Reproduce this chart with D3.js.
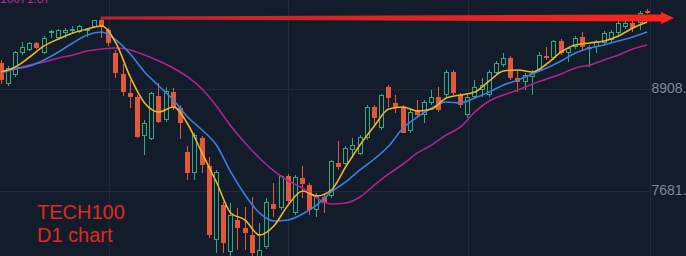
<!DOCTYPE html>
<html lang="en">
<head>
<meta charset="UTF-8">
<title>TECH100 D1 chart</title>
<script src="https://cdnjs.cloudflare.com/ajax/libs/d3/7.9.0/d3.min.js"></script>
<style>
    html, body {
        margin: 0;
        padding: 0;
        background-color: #121c2b;
        overflow: hidden;
    }
    svg {
        display: block;
    }
    .price-label {
        font-family: "Liberation Sans", Arial, sans-serif;
        font-size: 14px;
        fill: #7f8a9b;
    }
    .title {
        font-family: "Liberation Sans", Arial, sans-serif;
        font-size: 20px;
        fill: #e2281f;
    }
</style>
</head>
<body>
<svg id="chart" width="686" height="256"></svg>
<script>
    // daily OHLC, oldest first
    const open = [9221, 8968, 9077, 9341, 9378, 9462, 9341, 9582, 9522, 9582,
        9618, 9594, 9606, 9654, 9738, 9618, 9341, 9089, 8860, 8812,
        8343, 8307, 8824, 8535, 8872, 8680, 8151, 7898, 8319, 7982,
        7092, 7513, 6947, 7332, 7236, 7152, 6851, 7008, 7525, 7477,
        7862, 7417, 7838, 7753, 7453, 7609, 7621, 8018, 8006, 8175,
        8126, 8319, 8692, 8439, 8932, 8740, 8692, 8403, 8656, 8596,
        8740, 8812, 8836, 9113, 8836, 8596, 8812, 8896, 8836, 9101,
        9197, 9281, 9041, 8993, 9053, 9137, 9305, 9281, 9486, 9341,
        9414, 9534, 9402, 9414, 9462, 9498, 9582, 9654, 9702, 9702,
        9847];
    const high = [9257, 9185, 9365, 9474, 9474, 9474, 9546, 9618, 9630, 9642,
        9666, 9678, 9642, 9738, 9762, 9642, 9378, 9209, 9017, 8836,
        8535, 8872, 8981, 8932, 8920, 8716, 8223, 8379, 8343, 8090,
        7934, 7549, 7537, 7477, 7489, 7609, 7296, 7597, 7778, 7874,
        7886, 7874, 7982, 7778, 7657, 7657, 8054, 8283, 8223, 8319,
        8355, 8716, 8716, 8848, 8956, 8836, 8716, 8656, 8776, 8776,
        8896, 8932, 9137, 9137, 8860, 8836, 9017, 9041, 9137, 9245,
        9341, 9305, 9137, 9101, 9137, 9353, 9414, 9498, 9510, 9414,
        9546, 9594, 9438, 9498, 9606, 9618, 9726, 9726, 9726, 9847,
        9871];
    const low = [8968, 8944, 9053, 9317, 9365, 9390, 9329, 9522, 9498, 9522,
        9582, 9582, 9534, 9642, 9522, 9426, 9041, 8824, 8680, 8319,
        8114, 8295, 8499, 8511, 8656, 8307, 7814, 7814, 7898, 7116,
        6935, 6935, 6899, 6972, 6972, 6899, 6827, 6984, 7369, 7453,
        7537, 7393, 7597, 7393, 7369, 7417, 7597, 7934, 7994, 8078,
        8114, 8295, 8475, 8415, 8692, 8620, 8379, 8379, 8571, 8499,
        8716, 8632, 8812, 8836, 8680, 8559, 8788, 8812, 8812, 9077,
        9173, 9017, 8872, 8896, 8836, 9113, 9257, 9257, 9317, 9233,
        9390, 9378, 9173, 9341, 9438, 9462, 9558, 9630, 9594, 9618,
        9811];
    const close = [9017, 9161, 9353, 9414, 9462, 9402, 9522, 9606, 9618, 9618,
        9630, 9666, 9630, 9738, 9654, 9462, 9101, 8872, 8812, 8331,
        8499, 8860, 8511, 8884, 8692, 8499, 7898, 8355, 7994, 7152,
        7910, 7056, 7393, 7236, 7176, 6935, 6972, 7549, 7465, 7862,
        7561, 7850, 7766, 7453, 7633, 7537, 8042, 7970, 8199, 8235,
        8331, 8692, 8559, 8836, 8800, 8692, 8379, 8632, 8596, 8752,
        8812, 8656, 9113, 8860, 8716, 8812, 8932, 8956, 9113, 9221,
        9281, 9041, 8993, 9077, 9101, 9317, 9281, 9486, 9341, 9402,
        9522, 9414, 9414, 9474, 9582, 9594, 9702, 9702, 9642, 9823,
        9823];

    // moving averages, read every second day
    const maDays = [0, 2, 4, 6, 8, 10, 12, 14, 16, 18, 20, 22, 24, 26, 28, 30,
        32, 34, 36, 38, 40, 42, 44, 46, 48, 50, 52, 54, 56, 58, 60, 62,
        64, 66, 68, 70, 72, 74, 76, 78, 80, 82, 84, 86, 88, 90];
    const maFast = [9113, 9173, 9293, 9426, 9510, 9582, 9630, 9666, 9462, 9053,
        8740, 8632, 8692, 8487, 8139, 7789, 7417, 7332, 7152, 7260,
        7513, 7681, 7621, 7693, 7970, 8235, 8463, 8668, 8692, 8644,
        8668, 8800, 8836, 8872, 9005, 9125, 9137, 9113, 9209, 9353,
        9438, 9462, 9486, 9546, 9642, 9714];
    const maMid = [9113, 9149, 9185, 9257, 9353, 9462, 9558, 9594, 9498, 9329,
        9113, 8944, 8776, 8571, 8415, 8235, 7910, 7633, 7417, 7320,
        7332, 7405, 7513, 7669, 7790, 7934, 8066, 8223, 8439, 8571,
        8680, 8752, 8740, 8800, 8872, 8956, 9017, 9089, 9161, 9245,
        9341, 9402, 9438, 9486, 9534, 9594];
    const maSlow = [9101, 9149, 9197, 9233, 9281, 9317, 9365, 9390, 9402, 9378,
        9317, 9245, 9161, 9053, 8908, 8704, 8463, 8259, 8078, 7922,
        7802, 7717, 7597, 7525, 7537, 7609, 7753, 7886, 8006, 8139,
        8235, 8355, 8451, 8632, 8764, 8836, 8896, 8968, 9029, 9089,
        9161, 9197, 9257, 9317, 9390, 9438];

    const priceTicks = [7681.4, 8908.2];
    const gridDays = [15, 40, 65];
    const legendText = '10071.87';

    const colors = {
        up: '#36a87b',
        down: '#e2583b',
        bg: '#121c2b',
        grid: '#1f2a3a',
        fast: '#f0b42c',
        mid: '#3c7fe0',
        slow: '#b0238f'
    };

    const svg = d3.select('#chart');
    const x = d3.scaleLinear().domain([0, 90]).range([1, 647.2]);
    const y = d3.scaleLinear().domain([7681, 8908]).range([191, 89]);
    const axisX = 650.5;

    svg.append('rect').attr('width', 686).attr('height', 256).attr('fill', colors.bg);

    // grid
    const grid = svg.append('g').attr('stroke', colors.grid).attr('stroke-width', 1);
    grid.selectAll('line.h').data(priceTicks).join('line')
        .attr('x1', 0).attr('x2', axisX)
        .attr('y1', d => Math.round(y(d)) + 0.5).attr('y2', d => Math.round(y(d)) + 0.5);
    grid.selectAll('line.v').data(gridDays).join('line')
        .attr('x1', d => Math.round(x(d)) + 0.5).attr('x2', d => Math.round(x(d)) + 0.5)
        .attr('y1', 0).attr('y2', 256);
    grid.append('line')
        .attr('x1', axisX).attr('x2', axisX).attr('y1', 0).attr('y2', 256);

    // right price labels (cut by the window edge, as on the original)
    svg.selectAll('text.price-label').data(priceTicks).join('text')
        .attr('class', 'price-label')
        .attr('x', axisX + 1)
        .attr('y', d => y(d))
        .attr('dominant-baseline', 'middle')
        .text(d => d3.format('.1f')(d));

    // candles
    const candles = open.map((o, i) => ({ i, o, h: high[i], l: low[i], c: close[i] }));
    const cg = svg.append('g');
    const px = d => Math.floor(x(d.i));

    cg.selectAll('line').data(candles).join('line')
        .attr('x1', d => px(d) + 0.5).attr('x2', d => px(d) + 0.5)
        .attr('y1', d => y(d.h)).attr('y2', d => y(d.l))
        .attr('stroke', d => d.c >= d.o ? colors.up : colors.down)
        .attr('stroke-width', 1);

    cg.selectAll('rect.down').data(candles.filter(d => d.c < d.o)).join('rect')
        .attr('class', 'down')
        .attr('x', d => px(d) - 2)
        .attr('width', 5)
        .attr('y', d => y(d.o))
        .attr('height', d => Math.max(1, y(d.c) - y(d.o)))
        .attr('fill', colors.down);

    cg.selectAll('rect.up').data(candles.filter(d => d.c >= d.o)).join('rect')
        .attr('class', 'up')
        .attr('x', d => px(d) - 1.5)
        .attr('width', 4)
        .attr('y', d => Math.round(y(d.c)) + 0.5)
        .attr('height', d => Math.max(1, Math.round(y(d.o) - y(d.c)) - 1))
        .attr('fill', colors.bg)
        .attr('stroke', colors.up)
        .attr('stroke-width', 1);

    // moving averages
    const line = d3.line()
        .x(d => x(d[0]))
        .y(d => y(d[1]))
        .curve(d3.curveMonotoneX);

    [[maSlow, colors.slow], [maMid, colors.mid], [maFast, colors.fast]].forEach(([vals, col]) => {
        svg.append('path')
            .attr('d', line(maDays.map((day, k) => [day, vals[k]])))
            .attr('fill', 'none')
            .attr('stroke', col)
            .attr('stroke-width', 1.6);
    });

    // red arrow from the old high
    const defs = svg.append('defs');
    const grad = defs.append('linearGradient').attr('id', 'arrowGrad')
        .attr('x1', '0%').attr('x2', '100%');
    grad.append('stop').attr('offset', '0%').attr('stop-color', '#b9252b');
    grad.append('stop').attr('offset', '100%').attr('stop-color', '#fb2419');

    const ax0 = x(14) - 1;
    const ay = y(high[14]);
    const ax1 = 661, tip = 674;
    svg.append('path')
        .attr('d', `M${ax0},${ay - 1.5} L${ax1},${ay - 3.5} L${ax1},${ay - 6} L${tip},${ay} ` +
            `L${ax1},${ay + 6} L${ax1},${ay + 3.5} L${ax0},${ay + 1.5} Z`)
        .attr('fill', 'url(#arrowGrad)');

    // texts
    svg.append('text')
        .attr('x', 0).attr('y', 3)
        .attr('fill', '#c42a98')
        .style('font-family', '"Liberation Sans", Arial, sans-serif')
        .style('font-size', '12px')
        .text(legendText);

    svg.append('text').attr('class', 'title').attr('x', 37).attr('y', 219).text('TECH100');
    svg.append('text').attr('class', 'title').attr('x', 37).attr('y', 242).text('D1 chart');
</script>
</body>
</html>
